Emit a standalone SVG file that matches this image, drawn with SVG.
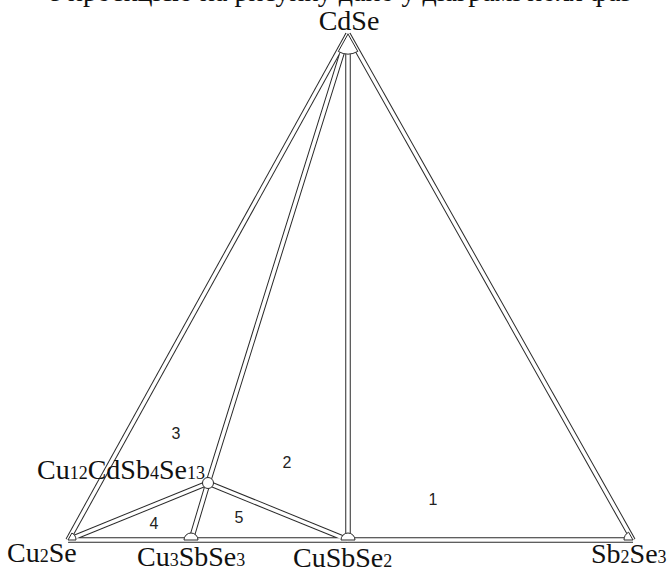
<svg xmlns="http://www.w3.org/2000/svg" width="668" height="571" viewBox="0 0 668 571">
<style>
.bo{fill:none;stroke:#2a2a2a;stroke-width:5.5;stroke-linecap:butt}
.bi{fill:none;stroke:#fff;stroke-width:3.5;stroke-linecap:butt}
.mk{fill:#fff;stroke:#2a2a2a;stroke-width:1}
.lb{font-family:"Liberation Serif","Times New Roman",serif;font-size:28px;fill:#111}
.lb tspan{font-size:18px}
.num{font-family:"Liberation Sans",Arial,sans-serif;font-size:16px;fill:#222;text-anchor:middle}
</style>
<defs>
<path id="eAL" d="M348,34 L68,540"/>
<path id="eAR" d="M348,34 L633,540"/>
<path id="eAQ" d="M348,34 L348,540"/>
<path id="eAP" d="M348,34 L208,483 L191,540"/>
<path id="eLR" d="M68,540 L633,540"/>
<path id="eML" d="M208,483 L68,540"/>
<path id="eMQ" d="M208,483 L348,540"/>
</defs>
<rect width="668" height="571" fill="#fff"/>
<text class="lb" x="50" y="0.5">з проекцією на рисунку дано у діаграмі поля фаз</text>
<g id="connectors">
<use href="#eAL" class="bo"/><use href="#eAR" class="bo"/><use href="#eAQ" class="bo"/><use href="#eAP" class="bo"/>
<use href="#eLR" class="bo"/><use href="#eML" class="bo"/><use href="#eMQ" class="bo"/>
<use href="#eAL" class="bi"/><use href="#eAR" class="bi"/><use href="#eAQ" class="bi"/><use href="#eAP" class="bi"/>
<use href="#eLR" class="bi"/><use href="#eML" class="bi"/><use href="#eMQ" class="bi"/>
</g>
<g id="CdSe">
<path class="mk" d="M348,34 L338.3,51.5 A20,20 0 0 0 357.8,51.4 Z"/>
<text class="lb" x="349" y="30" text-anchor="middle">CdSe</text>
</g>
<g id="Cu2Se">
<path class="mk" d="M68,540 L71.9,533 A8,8 0 0 1 76,540 Z"/>
<text class="lb" x="7" y="562">Cu<tspan>2</tspan>Se</text>
</g>
<g id="Sb2Se3">
<path class="mk" d="M633,540 L628.6,532.2 A9,9 0 0 0 624,540 Z"/>
<text class="lb" x="591" y="563">Sb<tspan>2</tspan>Se<tspan>3</tspan></text>
</g>
<g id="Cu3SbSe3">
<path class="mk" d="M184,540 A7,7 0 0 1 198,540 Z"/>
<text class="lb" x="137" y="566">Cu<tspan>3</tspan>SbSe<tspan>3</tspan></text>
</g>
<g id="CuSbSe2">
<path class="mk" d="M341,540 A7,7 0 0 1 355,540 Z"/>
<text class="lb" x="293" y="567">CuSbSe<tspan>2</tspan></text>
</g>
<g id="Cu12CdSb4Se13">
<circle class="mk" cx="208" cy="483" r="5.5"/>
<text class="lb" x="37" y="479">Cu<tspan>12</tspan>CdSb<tspan>4</tspan>Se<tspan>13</tspan></text>
</g>
<g id="fields">
<text class="num" x="433" y="505">1</text>
<text class="num" x="287" y="468">2</text>
<text class="num" x="176" y="439">3</text>
<text class="num" x="154" y="529">4</text>
<text class="num" x="239" y="523">5</text>
</g>
</svg>
